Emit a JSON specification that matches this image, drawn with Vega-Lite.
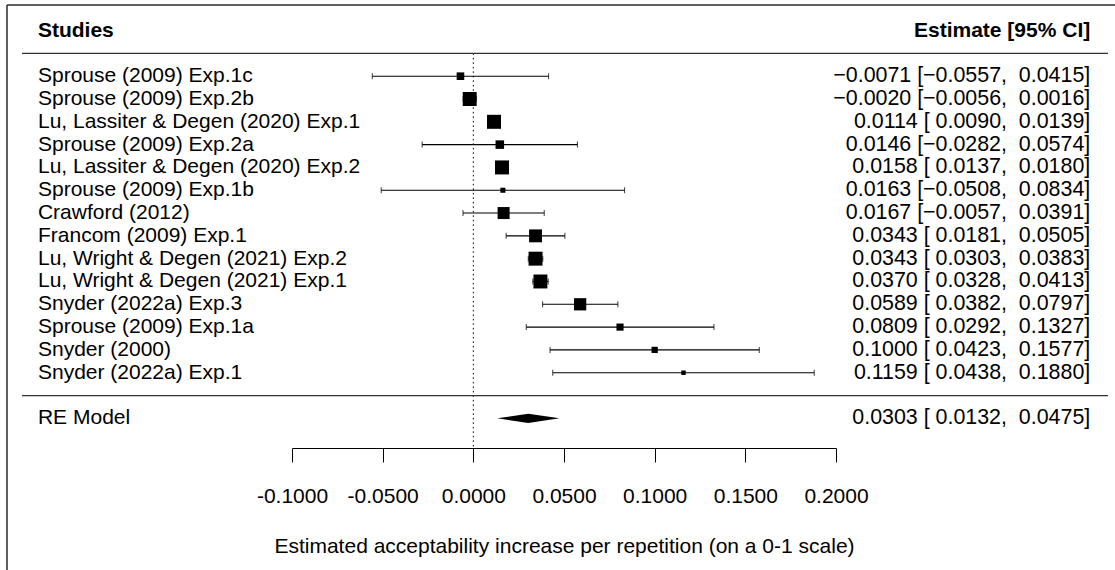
{
  "$schema": "https://vega.github.io/schema/vega-lite/v6.json",
  "width": 1108,
  "height": 565,
  "autosize": {"type": "none"},
  "padding": {"left": 7, "top": 5, "right": 0, "bottom": 0},
  "background": "white",
  "config": {
    "view": {"stroke": "#2b2b2b", "strokeWidth": 1.5, "strokeDash": [1108, 1673, 565, 0]},
    "font": "Liberation Sans",
    "text": {"font": "Liberation Sans", "fontSize": 21, "color": "black"}
  },
  "datasets": {
    "studies": [
      {"study": "Sprouse (2009) Exp.1c", "est": -0.0071, "lb": -0.0557, "ub": 0.0415, "weight": 5.36},
      {"study": "Sprouse (2009) Exp.2b", "est": -0.0020, "lb": -0.0056, "ub": 0.0016, "weight": 9.33},
      {"study": "Lu, Lassiter & Degen (2020) Exp.1", "est": 0.0114, "lb": 0.0090, "ub": 0.0139, "weight": 9.36},
      {"study": "Sprouse (2009) Exp.2a", "est": 0.0146, "lb": -0.0282, "ub": 0.0574, "weight": 5.93},
      {"study": "Lu, Lassiter & Degen (2020) Exp.2", "est": 0.0158, "lb": 0.0137, "ub": 0.0180, "weight": 9.36},
      {"study": "Sprouse (2009) Exp.1b", "est": 0.0163, "lb": -0.0508, "ub": 0.0834, "weight": 3.86},
      {"study": "Crawford (2012)", "est": 0.0167, "lb": -0.0057, "ub": 0.0391, "weight": 8.09},
      {"study": "Francom (2009) Exp.1", "est": 0.0343, "lb": 0.0181, "ub": 0.0505, "weight": 8.66},
      {"study": "Lu, Wright & Degen (2021) Exp.2", "est": 0.0343, "lb": 0.0303, "ub": 0.0383, "weight": 9.33},
      {"study": "Lu, Wright & Degen (2021) Exp.1", "est": 0.0370, "lb": 0.0328, "ub": 0.0413, "weight": 9.33},
      {"study": "Snyder (2022a) Exp.3", "est": 0.0589, "lb": 0.0382, "ub": 0.0797, "weight": 8.25},
      {"study": "Sprouse (2009) Exp.1a", "est": 0.0809, "lb": 0.0292, "ub": 0.1327, "weight": 5.07},
      {"study": "Snyder (2000)", "est": 0.1000, "lb": 0.0423, "ub": 0.1577, "weight": 4.56},
      {"study": "Snyder (2022a) Exp.1", "est": 0.1159, "lb": 0.0438, "ub": 0.1880, "weight": 3.54}
    ],
    "pooled": [
      {"model": "RE Model", "est": 0.0303, "lb": 0.0132, "ub": 0.0475}
    ]
  },
  "layer": [
    {
      "data": {"values": [{}]},
      "mark": {"type": "rule", "color": "black", "strokeWidth": 1, "strokeDash": [1.5, 3]},
      "encoding": {
        "x": {
          "datum": 0,
          "type": "quantitative",
          "scale": {"domain": [-0.1, 0.2], "range": [285, 829], "nice": false, "zero": false},
          "axis": {
            "values": [-0.1, -0.05, 0, 0.05, 0.1, 0.15, 0.2],
            "labelExpr": "(datum.value < 0 ? '-' : '') + format(abs(datum.value), '.4f')",
            "offset": -122,
            "grid": false,
            "domainColor": "black",
            "domainWidth": 1,
            "tickColor": "black",
            "tickWidth": 1,
            "tickSize": 14,
            "labelFont": "Liberation Sans",
            "labelFontSize": 21,
            "labelColor": "black",
            "labelPadding": 23,
            "labelFlush": false,
            "labelOverlap": false,
            "title": "Estimated acceptability increase per repetition (on a 0-1 scale)",
            "titleFont": "Liberation Sans",
            "titleFontSize": 21,
            "titleFontWeight": "normal",
            "titleColor": "black",
            "titlePadding": 29
          }
        },
        "y": {
          "datum": 15,
          "type": "quantitative",
          "scale": {"domain": [-7.649, 17.121], "nice": false, "zero": false},
          "axis": null
        },
        "y2": {"datum": -2.3}
      }
    },
    {
      "data": {"values": [{}]},
      "mark": {"type": "rule", "color": "#333333", "strokeWidth": 1.3},
      "encoding": {
        "x": {"datum": -0.2489},
        "x2": {"datum": 0.35},
        "y": {"datum": 15, "axis": null}
      }
    },
    {
      "data": {"values": [{}]},
      "mark": {"type": "rule", "color": "#333333", "strokeWidth": 1.3},
      "encoding": {
        "x": {"datum": -0.2489},
        "x2": {"datum": 0.35},
        "y": {"datum": 0, "axis": null}
      }
    },
    {
      "data": {"values": [{"left": "Studies", "right": "Estimate [95% CI]"}]},
      "layer": [
        {
          "mark": {"type": "text", "align": "left", "baseline": "middle", "fontWeight": "bold"},
          "encoding": {
            "x": {"datum": -0.2401},
            "y": {"datum": 16, "axis": null},
            "text": {"field": "left"}
          }
        },
        {
          "mark": {"type": "text", "align": "right", "baseline": "middle", "fontWeight": "bold"},
          "encoding": {
            "x": {"datum": 0.3402},
            "y": {"datum": 16, "axis": null},
            "text": {"field": "right"}
          }
        }
      ]
    },
    {
      "data": {"name": "studies"},
      "transform": [
        {
          "window": [{"op": "row_number", "as": "row"}],
          "sort": [{"field": "est", "order": "descending"}, {"field": "lb", "order": "descending"}]
        },
        {
          "calculate": "format(datum.est, '.4f') + ' [' + format(datum.lb, ' .4f') + ',\u00a0 ' + format(datum.ub, '.4f') + ']'",
          "as": "annotation"
        }
      ],
      "layer": [
        {
          "mark": {
            "type": "errorbar",
            "color": "black",
            "rule": {"strokeWidth": 1.1, "color": "black"},
            "ticks": {"size": 6, "thickness": 1.1, "color": "black"}
          },
          "encoding": {
            "x": {"field": "lb", "type": "quantitative", "title": "Estimated acceptability increase per repetition (on a 0-1 scale)"},
            "x2": {"field": "ub"},
            "y": {"field": "row", "type": "quantitative", "axis": null}
          }
        },
        {
          "mark": {"type": "square", "filled": true, "color": "black", "opacity": 1},
          "encoding": {
            "x": {"field": "est", "type": "quantitative", "title": "Estimated acceptability increase per repetition (on a 0-1 scale)"},
            "y": {"field": "row", "type": "quantitative", "axis": null},
            "size": {
              "field": "weight",
              "type": "quantitative",
              "scale": {"type": "pow", "exponent": 2, "domain": [3.54, 9.36], "range": [20, 196]},
              "legend": null
            }
          }
        },
        {
          "mark": {"type": "text", "align": "left", "baseline": "middle"},
          "encoding": {
            "x": {"datum": -0.2401},
            "y": {"field": "row", "type": "quantitative", "axis": null},
            "text": {"field": "study"}
          }
        },
        {
          "mark": {"type": "text", "align": "right", "baseline": "middle", "fontSize": 21.4},
          "encoding": {
            "x": {"datum": 0.3402},
            "y": {"field": "row", "type": "quantitative", "axis": null},
            "text": {"field": "annotation"}
          }
        }
      ]
    },
    {
      "data": {"name": "pooled"},
      "transform": [
        {
          "calculate": "format(datum.est, '.4f') + ' [' + format(datum.lb, ' .4f') + ',\u00a0 ' + format(datum.ub, '.4f') + ']'",
          "as": "annotation"
        }
      ],
      "layer": [
        {
          "transform": [
            {"fold": ["lb", "est", "ub"], "as": ["vertex", "xv"]},
            {"calculate": "datum.vertex === 'est' ? 0.2 : 0", "as": "half"},
            {"calculate": "-1 + datum.half", "as": "top"},
            {"calculate": "-1 - datum.half", "as": "bottom"}
          ],
          "mark": {"type": "area", "orient": "vertical", "color": "black", "opacity": 1, "interpolate": "linear"},
          "encoding": {
            "x": {"field": "xv", "type": "quantitative", "title": "Estimated acceptability increase per repetition (on a 0-1 scale)"},
            "y": {"field": "top", "type": "quantitative", "axis": null},
            "y2": {"field": "bottom"}
          }
        },
        {
          "mark": {"type": "text", "align": "left", "baseline": "middle"},
          "encoding": {
            "x": {"datum": -0.2401},
            "y": {"datum": -1, "axis": null},
            "text": {"field": "model"}
          }
        },
        {
          "mark": {"type": "text", "align": "right", "baseline": "middle", "fontSize": 21.4},
          "encoding": {
            "x": {"datum": 0.3402},
            "y": {"datum": -1, "axis": null},
            "text": {"field": "annotation"}
          }
        }
      ]
    }
  ]
}
